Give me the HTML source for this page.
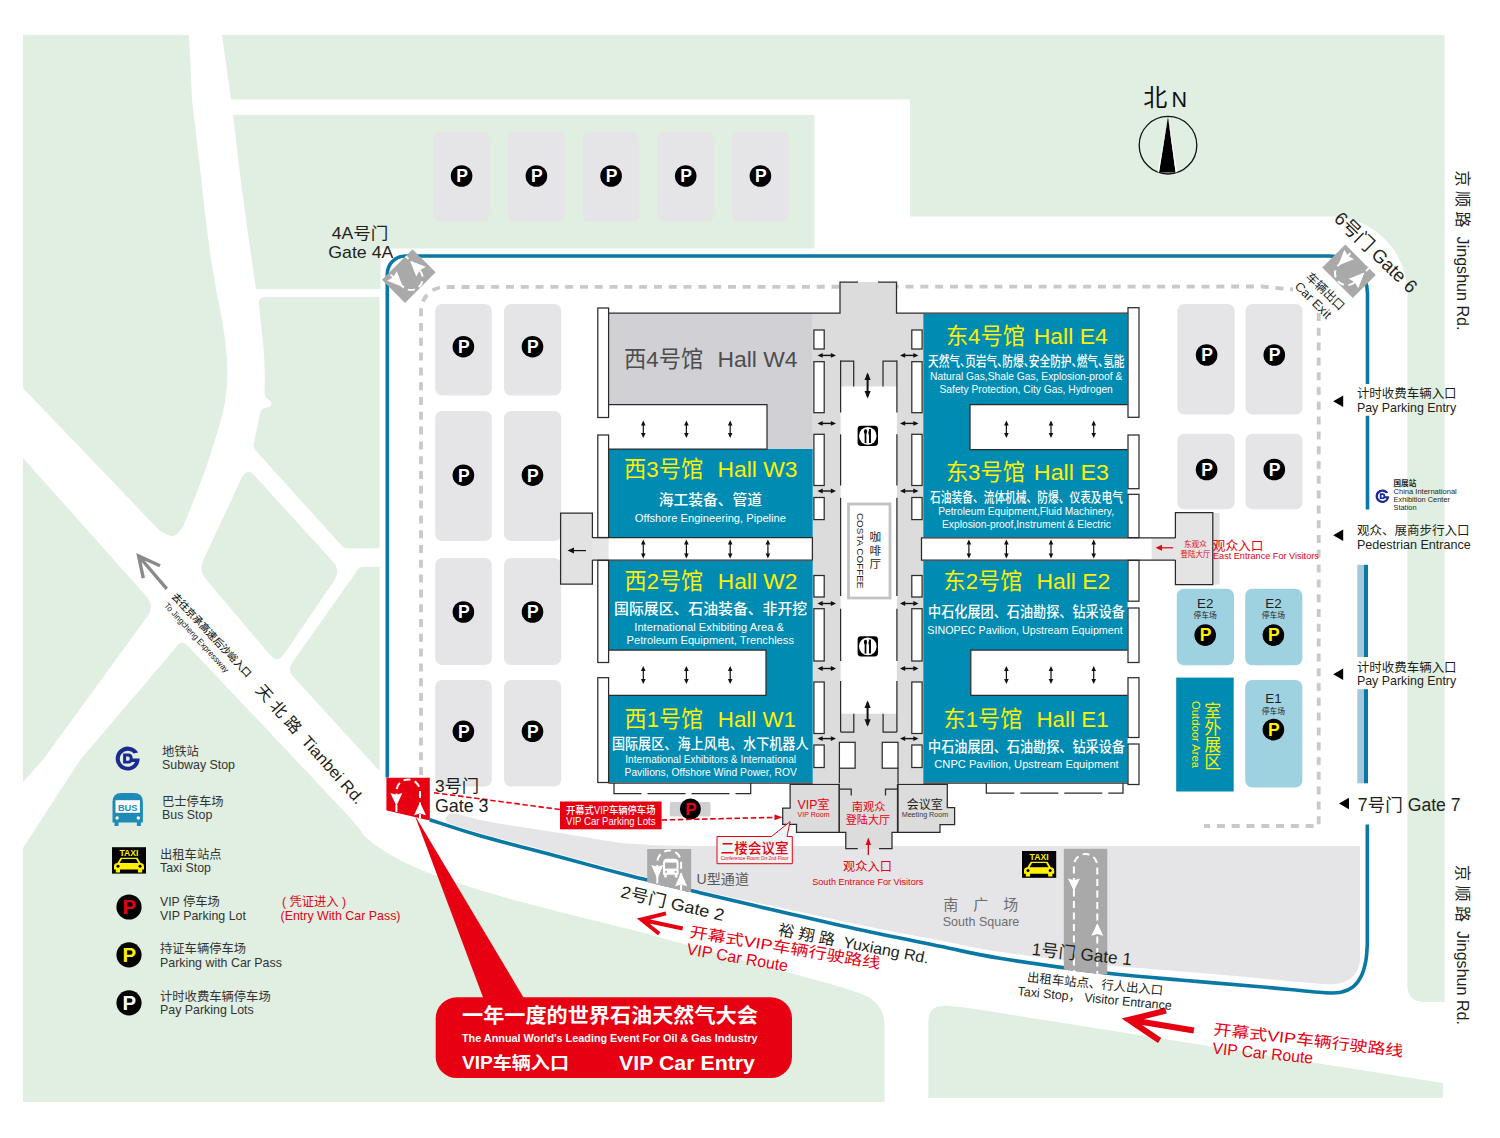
<!DOCTYPE html>
<html lang="zh"><head><meta charset="utf-8"><title>Venue Map</title>
<style>html,body{margin:0;padding:0;background:#fff}svg{display:block}text{font-family:"Liberation Sans","Noto Sans CJK SC",sans-serif;white-space:pre}</style>
</head><body>
<svg width="1500" height="1138" viewBox="0 0 1500 1138">
<defs>
<clipPath id="insideBlue"><path transform="translate(0 1.9)" d="M429.7,819.7 C438.1,822.4 458.3,829.5 480.0,835.7 C501.7,841.9 535.0,850.4 560.0,857.1 C585.0,863.8 606.7,869.8 630.0,875.8 C653.3,881.8 675.0,886.8 700.0,892.8 C725.0,898.8 753.3,905.3 780.0,911.5 C806.7,917.7 833.3,924.0 860.0,929.8 C886.7,935.6 916.7,941.5 940.0,946.3 C963.3,951.0 973.3,954.0 1000.0,958.3 C1026.7,962.6 1070.0,968.7 1100.0,972.3 C1130.0,975.9 1153.3,977.6 1180.0,980.0 C1206.7,982.4 1240.0,985.0 1260.0,986.8 C1280.0,988.5 1289.2,989.5 1300.0,990.5 C1310.8,991.5 1318.2,992.5 1325.0,992.8 C1331.8,993.1 1336.3,993.2 1341.0,992.2 C1345.7,991.2 1349.9,989.3 1353.3,986.6 C1356.7,983.9 1359.2,980.3 1361.3,976.0 C1363.4,971.7 1364.8,966.2 1365.8,961.0 C1366.8,955.8 1367.0,947.7 1367.3,945.0 L1367.5,800 L400,800 Z"/></clipPath>
<clipPath id="g3clip"><path d="M385.7,777.5 L429.8,777.5 L429.8,820.6 L385.7,810.3 Z"/></clipPath>
</defs>
<path d="M23.0,35.0 L189.0,35.0 L192.0,100.0 L196.4,137.2 Q200.0,167.0 203.2,196.8 L204.0,204.3 Q207.0,233.0 211.5,261.5 L213.4,273.3 Q216.0,290.0 219.5,306.5 L219.5,306.5 Q223.0,323.0 225.1,339.7 L225.5,343.1 Q228.0,363.0 227.0,383.0 L227.0,383.0 Q226.0,403.0 220.3,422.2 L215.5,438.2 Q207.0,467.0 195.9,494.9 L183.0,527.0 L178.5,532.5 Q174.0,538.0 167.6,534.8 L160.0,531.0 L23.0,388.0 Z" fill="#e0efe2" />
<path d="M222,35 L1444.7,35 L1444.7,1002 L1424,1002 Q1407.4,1002 1407.4,985 L1407.4,293 A77,77 0 0 0 1330.5,216.5 L910,216.5 L910,99.5 L231,99.5 Z" fill="#e0efe2"/>
<path d="M233.0,115.0 L814.3,115.0 L814.3,248.5 L380.7,248.5 L380.7,289.0 L256.0,289.0 L248.8,239.6 Q243.0,200.0 238.3,160.3 Z" fill="#e0efe2" />
<path d="M258.8,304.0 Q258.0,297.0 265.0,297.0 L379.6,297.0 L379.6,548.3 L347.0,548.3 Q344.0,548.3 342.0,546.1 L255.7,450.4 Q253.0,447.4 253.8,443.5 L260.0,413.3 L262.0,409.0 L269.6,406.7 Q272.0,406.0 271.5,403.5 L271.5,403.5 Q271.0,401.0 268.8,399.7 L267.8,399.0 Q264.5,397.0 264.6,393.2 L264.8,379.6 Q265.0,363.0 263.3,346.5 L263.4,346.5 Q261.7,330.0 259.9,313.5 Z" fill="#e0efe2" />
<path d="M241.6,477.9 Q246.7,467.0 254.8,475.9 L332.9,561.5 Q341.0,570.4 334.3,580.3 L284.2,654.1 Q277.5,664.0 269.8,654.8 L206.2,579.6 Q198.5,570.4 203.6,559.5 Z" fill="#e0efe2" />
<path d="M358.3,569.1 Q360.0,566.7 363.0,566.7 L379.6,566.7 L379.6,771.0 L293.1,676.6 Q287.0,670.0 292.2,662.7 Z" fill="#e0efe2" />
<path d="M23.0,458.0 L146.3,596.3 Q155.0,606.0 147.3,616.5 L43.3,759.3 L23.0,782.0 Z" fill="#e0efe2" />
<path d="M173.5,650.5 Q180.3,638 187,645 C212.5,672.0 309.8,774.7 340.0,807.0 C370.2,839.3 358.0,830.2 368.0,839.0 C378.0,847.8 388.0,853.7 400.0,860.0 C412.0,866.3 423.3,871.0 440.0,877.0 C456.7,883.0 480.0,890.2 500.0,896.0 C520.0,901.8 536.7,906.0 560.0,912.0 C583.3,918.0 610.0,924.1 640.0,932.0 C670.0,939.9 708.8,951.0 740.0,959.5 C771.2,968.0 807.7,977.6 827.0,983.0 C846.3,988.4 851.2,990.5 856.0,992.0 Q884.5,1000 884.5,1026 L884.5,1102 L23,1102 L23,848 L80,760 Z" fill="#e0efe2"/>
<path d="M928.3,1098.0 L928.3,1022.4 Q928.3,1004.0 946.6,1005.8 L965.0,1007.5 L1443.0,1083.0 L1443.0,1098.0 Z" fill="#e0efe2" />
<path d="M446,817.5 Q444,822 452,824.5 C456.7,825.9 462.0,827.9 480.0,832.9 C498.0,837.9 535.0,847.6 560.0,854.3 C585.0,861.0 606.7,867.0 630.0,873.0 C653.3,879.0 675.0,884.4 700.0,890.2 C725.0,896.0 753.3,901.8 780.0,907.6 C806.7,913.4 833.3,919.4 860.0,924.9 C886.7,930.4 916.7,935.9 940.0,940.4 C963.3,944.9 973.3,947.8 1000.0,951.8 C1026.7,955.8 1070.0,961.4 1100.0,964.6 C1130.0,967.9 1153.3,969.0 1180.0,971.3 C1206.7,973.6 1241.7,976.5 1260.0,978.2 C1278.3,979.9 1279.2,980.3 1290.0,981.3 C1300.8,982.3 1319.2,983.8 1325.0,984.3 C1347,985.5 1360,976 1360,958 L1360,846 L700,846 L660,845.5 L620,843 L560,833 L500,823.8 L480,820 L456,813.6 Q448,812 446,817.5 Z" fill="#e5e5e7"/>
<path d="M429.7,819.7 C438.1,822.4 458.3,829.5 480.0,835.7 C501.7,841.9 535.0,850.4 560.0,857.1 C585.0,863.8 606.7,869.8 630.0,875.8 C653.3,881.8 675.0,886.8 700.0,892.8 C725.0,898.8 753.3,905.3 780.0,911.5 C806.7,917.7 833.3,924.0 860.0,929.8 C886.7,935.6 916.7,941.5 940.0,946.3 C963.3,951.0 973.3,954.0 1000.0,958.3 C1026.7,962.6 1070.0,968.7 1100.0,972.3 C1130.0,975.9 1153.3,977.6 1180.0,980.0 C1206.7,982.4 1240.0,985.0 1260.0,986.8 C1280.0,988.5 1289.2,989.5 1300.0,990.5 C1310.8,991.5 1318.2,992.5 1325.0,992.8 C1331.8,993.1 1336.3,993.2 1341.0,992.2 C1345.7,991.2 1349.9,989.3 1353.3,986.6 C1356.7,983.9 1359.2,980.3 1361.3,976.0 C1363.4,971.7 1364.8,966.2 1365.8,961.0 C1366.8,955.8 1367.0,947.7 1367.3,945.0 L1367.3,824.6" fill="none" stroke="#0a78a4" stroke-width="3.6"/>
<path d="M387.3,777.5 L387.3,274 A18,18 0 0 1 405.3,256 L1329.5,256 A38,38 0 0 1 1367.5,294 L1367.5,384 M1367.5,415.7 L1367.5,509.4" fill="none" stroke="#0a78a4" stroke-width="3.6"/>
<rect x="1357.3" y="564.8" width="6.9" height="92.2" fill="#a6c6dc" />
<rect x="1364.0" y="564.8" width="4.0" height="92.2" fill="#0a78a4" />
<rect x="1357.3" y="689.2" width="6.9" height="94.1" fill="#a6c6dc" />
<rect x="1364.0" y="689.2" width="4.0" height="94.1" fill="#0a78a4" />
<g clip-path="url(#insideBlue)"><g transform="translate(669.2 870.5) rotate(0)"><rect x="-22.0" y="-21.5" width="44.0" height="43.0" fill="#a9a9a9"/><path d="M-11.9,21.5 L-11.9,-8.1 A11.9,11.9 0 0 1 11.9,-8.1 L11.9,21.5" fill="none" stroke="#fff" stroke-width="2" stroke-dasharray="7 4.5" stroke-dashoffset="3"/><path d="M-17.9,-5.6 L-11.9,-3.8 L-5.9,-5.6 L-11.9,8.4 Z" fill="#fff"/><path d="M5.9,15.8 L11.9,14.0 L17.9,15.8 L11.9,1.8 Z" fill="#fff"/></g><g transform="translate(670.8 868.2)"><path d="M-7.8,-5 Q-7.8,-9.4 -3.5,-9.4 L3.5,-9.4 Q7.8,-9.4 7.8,-5 L7.8,6.6 L6.6,6.6 L6.6,9.2 L4,9.2 L4,6.6 L-4,6.6 L-4,9.2 L-6.6,9.2 L-6.6,6.6 L-7.8,6.6 Z" fill="#fff"/><rect x="-5.8" y="-5.6" width="11.6" height="6" fill="#a9a9a9"/><circle cx="-4.8" cy="3.6" r="1.1" fill="#a9a9a9"/><circle cx="4.8" cy="3.6" r="1.1" fill="#a9a9a9"/></g></g>
<g clip-path="url(#insideBlue)"><g transform="translate(1085.6 911.4) rotate(0)"><rect x="-21.8" y="-62.6" width="43.5" height="125.2" fill="#a9a9a9"/><path d="M-11.7,62.6 L-11.7,-45.7 A11.7,11.7 0 0 1 11.7,-45.7 L11.7,62.6" fill="none" stroke="#fff" stroke-width="2" stroke-dasharray="7 4.5" stroke-dashoffset="3"/><path d="M-17.7,-32.9 L-11.7,-31.1 L-5.7,-32.9 L-11.7,-20.4 Z" fill="#fff"/><path d="M5.7,24.4 L11.7,22.6 L17.7,24.4 L11.7,11.9 Z" fill="#fff"/></g></g>
<path d="M421,775 L421,311 A24,24 0 0 1 445,287 L1262,286.5 L1293,289.5 M1318.7,313 L1318.7,826 L1204,826" fill="none" stroke="#c9c9c9" stroke-width="3.8" stroke-dasharray="8 6.8"/>
<rect x="433.2" y="131.6" width="56.8" height="89.9" fill="#e5e5e7" rx="7" />
<rect x="508.0" y="131.6" width="56.8" height="89.9" fill="#e5e5e7" rx="7" />
<rect x="582.7" y="131.6" width="56.8" height="89.9" fill="#e5e5e7" rx="7" />
<rect x="657.3" y="131.6" width="56.8" height="89.9" fill="#e5e5e7" rx="7" />
<rect x="732.0" y="131.6" width="56.8" height="89.9" fill="#e5e5e7" rx="7" />
<rect x="435.2" y="304.0" width="56.6" height="91.5" fill="#e5e5e7" rx="7" />
<rect x="504.0" y="304.0" width="57.2" height="91.5" fill="#e5e5e7" rx="7" />
<rect x="435.2" y="411.0" width="56.6" height="130.0" fill="#e5e5e7" rx="7" />
<rect x="504.0" y="411.0" width="57.2" height="130.0" fill="#e5e5e7" rx="7" />
<rect x="435.2" y="558.0" width="56.6" height="107.0" fill="#e5e5e7" rx="7" />
<rect x="504.0" y="558.0" width="57.2" height="107.0" fill="#e5e5e7" rx="7" />
<rect x="435.2" y="680.0" width="56.6" height="106.5" fill="#e5e5e7" rx="7" />
<rect x="504.0" y="680.0" width="57.2" height="106.5" fill="#e5e5e7" rx="7" />
<rect x="1177.3" y="304.0" width="57.4" height="110.6" fill="#e5e5e7" rx="7" />
<rect x="1245.5" y="304.0" width="57.1" height="110.6" fill="#e5e5e7" rx="7" />
<rect x="1177.3" y="433.8" width="57.4" height="75.5" fill="#e5e5e7" rx="7" />
<rect x="1245.5" y="433.8" width="57.1" height="75.5" fill="#e5e5e7" rx="7" />
<rect x="1176.8" y="588.8" width="57.2" height="76.5" fill="#9fd2e0" rx="7" />
<rect x="1245.2" y="588.8" width="57.2" height="76.5" fill="#9fd2e0" rx="7" />
<rect x="1245.2" y="680.0" width="57.2" height="107.6" fill="#9fd2e0" rx="7" />
<rect x="1176.2" y="677.6" width="57.5" height="113.9" fill="#008bb2" />
<rect x="669.8" y="802.0" width="40.7" height="14.5" fill="#d0d0d2" rx="2" />
<circle cx="461.6" cy="176.0" r="10.8" fill="#000"/>
<text x="462.0" y="182.3" font-size="17.5" fill="#fff" text-anchor="middle" font-weight="bold" >P</text>
<circle cx="536.4" cy="176.0" r="10.8" fill="#000"/>
<text x="536.8" y="182.3" font-size="17.5" fill="#fff" text-anchor="middle" font-weight="bold" >P</text>
<circle cx="611.1" cy="176.0" r="10.8" fill="#000"/>
<text x="611.5" y="182.3" font-size="17.5" fill="#fff" text-anchor="middle" font-weight="bold" >P</text>
<circle cx="685.7" cy="176.0" r="10.8" fill="#000"/>
<text x="686.1" y="182.3" font-size="17.5" fill="#fff" text-anchor="middle" font-weight="bold" >P</text>
<circle cx="760.4" cy="176.0" r="10.8" fill="#000"/>
<text x="760.8" y="182.3" font-size="17.5" fill="#fff" text-anchor="middle" font-weight="bold" >P</text>
<circle cx="463.4" cy="346.7" r="10.8" fill="#000"/>
<text x="463.8" y="353.0" font-size="17.5" fill="#fff" text-anchor="middle" font-weight="bold" >P</text>
<circle cx="532.5" cy="346.7" r="10.8" fill="#000"/>
<text x="532.9" y="353.0" font-size="17.5" fill="#fff" text-anchor="middle" font-weight="bold" >P</text>
<circle cx="463.4" cy="475.2" r="10.8" fill="#000"/>
<text x="463.8" y="481.5" font-size="17.5" fill="#fff" text-anchor="middle" font-weight="bold" >P</text>
<circle cx="532.5" cy="475.2" r="10.8" fill="#000"/>
<text x="532.9" y="481.5" font-size="17.5" fill="#fff" text-anchor="middle" font-weight="bold" >P</text>
<circle cx="463.4" cy="612.0" r="10.8" fill="#000"/>
<text x="463.8" y="618.3" font-size="17.5" fill="#fff" text-anchor="middle" font-weight="bold" >P</text>
<circle cx="532.5" cy="612.0" r="10.8" fill="#000"/>
<text x="532.9" y="618.3" font-size="17.5" fill="#fff" text-anchor="middle" font-weight="bold" >P</text>
<circle cx="463.4" cy="731.3" r="10.8" fill="#000"/>
<text x="463.8" y="737.6" font-size="17.5" fill="#fff" text-anchor="middle" font-weight="bold" >P</text>
<circle cx="532.5" cy="731.3" r="10.8" fill="#000"/>
<text x="532.9" y="737.6" font-size="17.5" fill="#fff" text-anchor="middle" font-weight="bold" >P</text>
<circle cx="1206.6" cy="355.0" r="10.8" fill="#000"/>
<text x="1207.0" y="361.3" font-size="17.5" fill="#fff" text-anchor="middle" font-weight="bold" >P</text>
<circle cx="1274.3" cy="355.0" r="10.8" fill="#000"/>
<text x="1274.7" y="361.3" font-size="17.5" fill="#fff" text-anchor="middle" font-weight="bold" >P</text>
<circle cx="1206.6" cy="469.5" r="10.8" fill="#000"/>
<text x="1207.0" y="475.8" font-size="17.5" fill="#fff" text-anchor="middle" font-weight="bold" >P</text>
<circle cx="1274.3" cy="469.5" r="10.8" fill="#000"/>
<text x="1274.7" y="475.8" font-size="17.5" fill="#fff" text-anchor="middle" font-weight="bold" >P</text>
<circle cx="1205.2" cy="635.1" r="10.8" fill="#000"/>
<text x="1205.6" y="641.4" font-size="17.5" fill="#fff100" text-anchor="middle" font-weight="bold" >P</text>
<circle cx="1273.4" cy="635.1" r="10.8" fill="#000"/>
<text x="1273.8" y="641.4" font-size="17.5" fill="#fff100" text-anchor="middle" font-weight="bold" >P</text>
<circle cx="1273.4" cy="729.6" r="10.8" fill="#000"/>
<text x="1273.8" y="735.9" font-size="17.5" fill="#fff100" text-anchor="middle" font-weight="bold" >P</text>
<circle cx="690.4" cy="809.0" r="10.5" fill="#000"/>
<text x="690.8" y="815.1" font-size="17.0" fill="#e60012" text-anchor="middle" font-weight="bold" >P</text>
<rect x="812.7" y="313.2" width="110.6" height="469.8" fill="#dbdcdb" />
<rect x="840.0" y="282.0" width="56.5" height="32.0" fill="#dbdcdb" />
<path d="M608.6,313.2 L812.7,313.2 L812.7,449.0 L767.0,449.0 L767.0,404.7 L608.6,404.7 Z" fill="#d1d1d5" />
<rect x="608.6" y="449.0" width="204.1" height="88.5" fill="#008bb2" />
<path d="M608.6,560.4 L812.7,560.4 L812.7,782.5 L608.6,782.5 L608.6,695.4 L766.0,695.4 L766.0,650.0 L608.6,650.0 Z" fill="#008bb2" />
<path d="M923.3,313.8 L1127.6,313.8 L1127.6,404.6 L970.0,404.6 L970.0,449.7 L1127.6,449.7 L1127.6,537.6 L923.3,537.6 Z" fill="#008bb2" />
<path d="M923.3,560.4 L1127.6,560.4 L1127.6,650.0 L970.8,650.0 L970.8,695.4 L1127.6,695.4 L1127.6,782.5 L923.3,782.5 Z" fill="#008bb2" />
<path d="M597.8,313.2 L840.0,313.2 L840.0,282.0 L858.0,282.0" fill="none" stroke="#2e2a2a" stroke-width="1.25" />
<path d="M878.0,282.0 L896.5,282.0 L896.5,313.2 L1128.0,313.2" fill="none" stroke="#2e2a2a" stroke-width="1.25" />
<rect x="560.6" y="513.0" width="31.8" height="71.0" fill="#e2e2e2" />
<rect x="592.0" y="538.0" width="21.0" height="22.0" fill="#e6e6e6" />
<path d="M592.4,538.0 L592.4,513.0 L560.6,513.0 L560.6,584.0 L592.4,584.0 L592.4,560.0" fill="none" stroke="#2e2a2a" stroke-width="1.25" />
<rect x="1212.8" y="513.0" width="6.8" height="71.5" fill="#e0e0e0" />
<rect x="1175.4" y="512.6" width="37.4" height="71.9" fill="#e4e4e4" />
<rect x="1151.4" y="538.3" width="24.6" height="21.5" fill="#e4e4e4" />
<path d="M1175.4,538.0 L1175.4,512.6 L1212.8,512.6 L1212.8,584.5 L1175.4,584.5 L1175.4,560.0" fill="none" stroke="#2e2a2a" stroke-width="1.25" />
<rect x="608.6" y="537.5" width="203.8" height="22.9" fill="#fff" />
<path d="M592.4,537.7 L812.4,537.7 L812.4,560.2 L592.4,560.2" fill="none" stroke="#2e2a2a" stroke-width="1.25" />
<rect x="921.5" y="537.6" width="229.9" height="22.8" fill="#fff" />
<path d="M1175.4,537.8 L921.5,537.8 L921.5,560.2 L1175.4,560.2" fill="none" stroke="#2e2a2a" stroke-width="1.25" />
<rect x="608.6" y="404.7" width="158.4" height="44.3" fill="#fff" />
<path d="M608.6,404.7 L767.0,404.7 L767.0,449.0 L608.6,449.0" fill="none" stroke="#2e2a2a" stroke-width="1.25" />
<rect x="608.6" y="650.0" width="157.4" height="45.4" fill="#fff" />
<path d="M608.6,650.0 L766.0,650.0 L766.0,695.4 L608.6,695.4" fill="none" stroke="#2e2a2a" stroke-width="1.25" />
<rect x="970.0" y="404.6" width="157.6" height="45.1" fill="#fff" />
<path d="M1127.6,404.6 L970.0,404.6 L970.0,449.7 L1127.6,449.7" fill="none" stroke="#2e2a2a" stroke-width="1.25" />
<rect x="970.8" y="650.0" width="156.8" height="45.4" fill="#fff" />
<path d="M1127.6,650.0 L970.8,650.0 L970.8,695.4 L1127.6,695.4" fill="none" stroke="#2e2a2a" stroke-width="1.25" />
<rect x="597.8" y="308.0" width="10.8" height="109.5" fill="#fff" stroke="#2e2a2a" stroke-width="1.25" />
<rect x="597.8" y="435.0" width="10.8" height="102.5" fill="#fff" stroke="#2e2a2a" stroke-width="1.25" />
<rect x="597.8" y="560.4" width="10.8" height="102.1" fill="#fff" stroke="#2e2a2a" stroke-width="1.25" />
<rect x="597.8" y="677.7" width="10.8" height="104.8" fill="#fff" stroke="#2e2a2a" stroke-width="1.25" />
<rect x="1128.0" y="307.7" width="11.0" height="109.6" fill="#fff" stroke="#2e2a2a" stroke-width="1.25" />
<rect x="1128.0" y="435.0" width="11.0" height="53.7" fill="#fff" stroke="#2e2a2a" stroke-width="1.25" />
<rect x="1128.0" y="494.3" width="11.0" height="43.3" fill="#fff" stroke="#2e2a2a" stroke-width="1.25" />
<rect x="1128.0" y="560.4" width="11.0" height="40.8" fill="#fff" stroke="#2e2a2a" stroke-width="1.25" />
<rect x="1128.0" y="608.0" width="11.0" height="54.5" fill="#fff" stroke="#2e2a2a" stroke-width="1.25" />
<rect x="1128.0" y="677.7" width="11.0" height="59.8" fill="#fff" stroke="#2e2a2a" stroke-width="1.25" />
<rect x="1128.0" y="744.0" width="11.0" height="40.5" fill="#fff" stroke="#2e2a2a" stroke-width="1.25" />
<path d="M614.0,783.0 L614.0,793.5 L750.7,793.5 L750.7,783.0" fill="none" stroke="#2e2a2a" stroke-width="1.25" stroke-dasharray="38 6"/>
<path d="M986.3,783.0 L986.3,793.0 L1123.0,793.0 L1123.0,783.0" fill="none" stroke="#2e2a2a" stroke-width="1.25" stroke-dasharray="38 6"/>
<path d="M608.6,783.0 L812.7,783.0" fill="none" stroke="#2e2a2a" stroke-width="1.25" />
<path d="M923.3,783.0 L1128.0,783.0" fill="none" stroke="#2e2a2a" stroke-width="1.25" />
<rect x="840.6" y="386.4" width="56.3" height="327.3" fill="#fff" />
<rect x="813.9" y="330.0" width="10.3" height="19.0" fill="#fff" stroke="#2e2a2a" stroke-width="1.25" />
<rect x="911.8" y="330.0" width="10.3" height="19.0" fill="#fff" stroke="#2e2a2a" stroke-width="1.25" />
<rect x="813.9" y="361.7" width="10.3" height="51.0" fill="#fff" stroke="#2e2a2a" stroke-width="1.25" />
<rect x="911.8" y="361.7" width="10.3" height="51.0" fill="#fff" stroke="#2e2a2a" stroke-width="1.25" />
<rect x="813.9" y="434.3" width="10.3" height="51.2" fill="#fff" stroke="#2e2a2a" stroke-width="1.25" />
<rect x="911.8" y="434.3" width="10.3" height="51.2" fill="#fff" stroke="#2e2a2a" stroke-width="1.25" />
<rect x="813.9" y="497.5" width="10.3" height="22.1" fill="#fff" stroke="#2e2a2a" stroke-width="1.25" />
<rect x="911.8" y="497.5" width="10.3" height="22.1" fill="#fff" stroke="#2e2a2a" stroke-width="1.25" />
<rect x="813.9" y="575.5" width="10.3" height="21.5" fill="#fff" stroke="#2e2a2a" stroke-width="1.25" />
<rect x="911.8" y="575.5" width="10.3" height="21.5" fill="#fff" stroke="#2e2a2a" stroke-width="1.25" />
<rect x="813.9" y="608.7" width="10.3" height="52.3" fill="#fff" stroke="#2e2a2a" stroke-width="1.25" />
<rect x="911.8" y="608.7" width="10.3" height="52.3" fill="#fff" stroke="#2e2a2a" stroke-width="1.25" />
<rect x="813.9" y="682.0" width="10.3" height="51.5" fill="#fff" stroke="#2e2a2a" stroke-width="1.25" />
<rect x="911.8" y="682.0" width="10.3" height="51.5" fill="#fff" stroke="#2e2a2a" stroke-width="1.25" />
<rect x="813.9" y="745.0" width="10.3" height="22.5" fill="#fff" stroke="#2e2a2a" stroke-width="1.25" />
<rect x="911.8" y="745.0" width="10.3" height="22.5" fill="#fff" stroke="#2e2a2a" stroke-width="1.25" />
<path d="M840.6,360.4 L840.6,412.5" fill="none" stroke="#2e2a2a" stroke-width="1.25" />
<path d="M896.9,360.4 L896.9,412.5" fill="none" stroke="#2e2a2a" stroke-width="1.25" />
<path d="M840.6,434.3 L840.6,485.5" fill="none" stroke="#2e2a2a" stroke-width="1.25" />
<path d="M896.9,434.3 L896.9,485.5" fill="none" stroke="#2e2a2a" stroke-width="1.25" />
<path d="M840.6,497.8 L840.6,596.0" fill="none" stroke="#2e2a2a" stroke-width="1.25" />
<path d="M896.9,497.8 L896.9,596.0" fill="none" stroke="#2e2a2a" stroke-width="1.25" />
<path d="M840.6,608.7 L840.6,661.0" fill="none" stroke="#2e2a2a" stroke-width="1.25" />
<path d="M896.9,608.7 L896.9,661.0" fill="none" stroke="#2e2a2a" stroke-width="1.25" />
<path d="M840.6,681.0 L840.6,732.0" fill="none" stroke="#2e2a2a" stroke-width="1.25" />
<path d="M896.9,681.0 L896.9,732.0" fill="none" stroke="#2e2a2a" stroke-width="1.25" />
<path d="M840.6,361.0 L853.7,361.0 L853.7,386.4" fill="none" stroke="#2e2a2a" stroke-width="1.25" />
<path d="M896.9,361.0 L883.0,361.0 L883.0,386.4" fill="none" stroke="#2e2a2a" stroke-width="1.25" />
<path d="M840.6,732.0 L853.8,732.0 L853.8,713.7" fill="none" stroke="#2e2a2a" stroke-width="1.25" />
<path d="M896.9,732.0 L883.1,732.0 L883.1,713.7" fill="none" stroke="#2e2a2a" stroke-width="1.25" />
<rect x="839.4" y="742.3" width="15.7" height="25.9" fill="#fff" stroke="#2e2a2a" stroke-width="1.25" />
<rect x="882.2" y="742.3" width="15.8" height="25.9" fill="#fff" stroke="#2e2a2a" stroke-width="1.25" />
<path d="M839.4,768.2 L839.4,784.0" fill="none" stroke="#2e2a2a" stroke-width="1.25" />
<path d="M898.0,768.2 L898.0,784.0" fill="none" stroke="#2e2a2a" stroke-width="1.25" />
<rect x="848.5" y="504.0" width="41.5" height="94.0" fill="#fff" stroke="#c2c2c2" stroke-width="2.8" />
<path d="M819.5,355.4 L834.0,355.4" fill="none" stroke="#111" stroke-width="1.4" />
<path d="M817.5,355.4 L822.7,353.0 L822.7,357.8 Z" fill="#111" />
<path d="M836.0,355.4 L830.8,353.0 L830.8,357.8 Z" fill="#111" />
<path d="M902.0,355.4 L916.5,355.4" fill="none" stroke="#111" stroke-width="1.4" />
<path d="M900.0,355.4 L905.2,353.0 L905.2,357.8 Z" fill="#111" />
<path d="M918.5,355.4 L913.3,353.0 L913.3,357.8 Z" fill="#111" />
<path d="M819.5,423.4 L834.0,423.4" fill="none" stroke="#111" stroke-width="1.4" />
<path d="M817.5,423.4 L822.7,421.0 L822.7,425.8 Z" fill="#111" />
<path d="M836.0,423.4 L830.8,421.0 L830.8,425.8 Z" fill="#111" />
<path d="M902.0,423.4 L916.5,423.4" fill="none" stroke="#111" stroke-width="1.4" />
<path d="M900.0,423.4 L905.2,421.0 L905.2,425.8 Z" fill="#111" />
<path d="M918.5,423.4 L913.3,421.0 L913.3,425.8 Z" fill="#111" />
<path d="M819.5,491.0 L834.0,491.0" fill="none" stroke="#111" stroke-width="1.4" />
<path d="M817.5,491.0 L822.7,488.6 L822.7,493.4 Z" fill="#111" />
<path d="M836.0,491.0 L830.8,488.6 L830.8,493.4 Z" fill="#111" />
<path d="M902.0,491.0 L916.5,491.0" fill="none" stroke="#111" stroke-width="1.4" />
<path d="M900.0,491.0 L905.2,488.6 L905.2,493.4 Z" fill="#111" />
<path d="M918.5,491.0 L913.3,488.6 L913.3,493.4 Z" fill="#111" />
<path d="M819.5,603.5 L834.0,603.5" fill="none" stroke="#111" stroke-width="1.4" />
<path d="M817.5,603.5 L822.7,601.1 L822.7,605.9 Z" fill="#111" />
<path d="M836.0,603.5 L830.8,601.1 L830.8,605.9 Z" fill="#111" />
<path d="M902.0,603.5 L916.5,603.5" fill="none" stroke="#111" stroke-width="1.4" />
<path d="M900.0,603.5 L905.2,601.1 L905.2,605.9 Z" fill="#111" />
<path d="M918.5,603.5 L913.3,601.1 L913.3,605.9 Z" fill="#111" />
<path d="M819.5,668.5 L834.0,668.5" fill="none" stroke="#111" stroke-width="1.4" />
<path d="M817.5,668.5 L822.7,666.1 L822.7,670.9 Z" fill="#111" />
<path d="M836.0,668.5 L830.8,666.1 L830.8,670.9 Z" fill="#111" />
<path d="M902.0,668.5 L916.5,668.5" fill="none" stroke="#111" stroke-width="1.4" />
<path d="M900.0,668.5 L905.2,666.1 L905.2,670.9 Z" fill="#111" />
<path d="M918.5,668.5 L913.3,666.1 L913.3,670.9 Z" fill="#111" />
<path d="M819.5,738.6 L834.0,738.6" fill="none" stroke="#111" stroke-width="1.4" />
<path d="M817.5,738.6 L822.7,736.2 L822.7,741.0 Z" fill="#111" />
<path d="M836.0,738.6 L830.8,736.2 L830.8,741.0 Z" fill="#111" />
<path d="M902.0,738.6 L916.5,738.6" fill="none" stroke="#111" stroke-width="1.4" />
<path d="M900.0,738.6 L905.2,736.2 L905.2,741.0 Z" fill="#111" />
<path d="M918.5,738.6 L913.3,736.2 L913.3,741.0 Z" fill="#111" />
<path d="M867.6,374.5 L867.6,396.5" fill="none" stroke="#111" stroke-width="2" />
<path d="M867.6,372.5 L864.5,380.0 L870.7,380.0 Z" fill="#111" />
<path d="M867.6,398.5 L864.5,391.0 L870.7,391.0 Z" fill="#111" />
<path d="M867.6,702.4 L867.6,724.7" fill="none" stroke="#111" stroke-width="2" />
<path d="M867.6,700.4 L864.5,707.9 L870.7,707.9 Z" fill="#111" />
<path d="M867.6,726.7 L864.5,719.2 L870.7,719.2 Z" fill="#111" />
<path d="M643.3,422.5 L643.3,436.0" fill="none" stroke="#111" stroke-width="1.2" />
<path d="M643.3,420.5 L641.0,425.5 L645.6,425.5 Z" fill="#111" />
<path d="M643.3,438.0 L641.0,433.0 L645.6,433.0 Z" fill="#111" />
<path d="M643.3,668.0 L643.3,682.0" fill="none" stroke="#111" stroke-width="1.2" />
<path d="M643.3,666.0 L641.0,671.0 L645.6,671.0 Z" fill="#111" />
<path d="M643.3,684.0 L641.0,679.0 L645.6,679.0 Z" fill="#111" />
<path d="M686.4,422.5 L686.4,436.0" fill="none" stroke="#111" stroke-width="1.2" />
<path d="M686.4,420.5 L684.1,425.5 L688.7,425.5 Z" fill="#111" />
<path d="M686.4,438.0 L684.1,433.0 L688.7,433.0 Z" fill="#111" />
<path d="M686.4,668.0 L686.4,682.0" fill="none" stroke="#111" stroke-width="1.2" />
<path d="M686.4,666.0 L684.1,671.0 L688.7,671.0 Z" fill="#111" />
<path d="M686.4,684.0 L684.1,679.0 L688.7,679.0 Z" fill="#111" />
<path d="M730.2,422.5 L730.2,436.0" fill="none" stroke="#111" stroke-width="1.2" />
<path d="M730.2,420.5 L727.9,425.5 L732.5,425.5 Z" fill="#111" />
<path d="M730.2,438.0 L727.9,433.0 L732.5,433.0 Z" fill="#111" />
<path d="M730.2,668.0 L730.2,682.0" fill="none" stroke="#111" stroke-width="1.2" />
<path d="M730.2,666.0 L727.9,671.0 L732.5,671.0 Z" fill="#111" />
<path d="M730.2,684.0 L727.9,679.0 L732.5,679.0 Z" fill="#111" />
<path d="M643.3,541.6 L643.3,556.6" fill="none" stroke="#111" stroke-width="1.2" />
<path d="M643.3,539.6 L641.0,544.6 L645.6,544.6 Z" fill="#111" />
<path d="M643.3,558.6 L641.0,553.6 L645.6,553.6 Z" fill="#111" />
<path d="M686.4,541.6 L686.4,556.6" fill="none" stroke="#111" stroke-width="1.2" />
<path d="M686.4,539.6 L684.1,544.6 L688.7,544.6 Z" fill="#111" />
<path d="M686.4,558.6 L684.1,553.6 L688.7,553.6 Z" fill="#111" />
<path d="M730.2,541.6 L730.2,556.6" fill="none" stroke="#111" stroke-width="1.2" />
<path d="M730.2,539.6 L727.9,544.6 L732.5,544.6 Z" fill="#111" />
<path d="M730.2,558.6 L727.9,553.6 L732.5,553.6 Z" fill="#111" />
<path d="M767.9,541.6 L767.9,556.6" fill="none" stroke="#111" stroke-width="1.2" />
<path d="M767.9,539.6 L765.6,544.6 L770.2,544.6 Z" fill="#111" />
<path d="M767.9,558.6 L765.6,553.6 L770.2,553.6 Z" fill="#111" />
<path d="M1006.4,422.5 L1006.4,436.0" fill="none" stroke="#111" stroke-width="1.2" />
<path d="M1006.4,420.5 L1004.1,425.5 L1008.7,425.5 Z" fill="#111" />
<path d="M1006.4,438.0 L1004.1,433.0 L1008.7,433.0 Z" fill="#111" />
<path d="M1006.4,668.0 L1006.4,682.0" fill="none" stroke="#111" stroke-width="1.2" />
<path d="M1006.4,666.0 L1004.1,671.0 L1008.7,671.0 Z" fill="#111" />
<path d="M1006.4,684.0 L1004.1,679.0 L1008.7,679.0 Z" fill="#111" />
<path d="M1051.0,422.5 L1051.0,436.0" fill="none" stroke="#111" stroke-width="1.2" />
<path d="M1051.0,420.5 L1048.7,425.5 L1053.3,425.5 Z" fill="#111" />
<path d="M1051.0,438.0 L1048.7,433.0 L1053.3,433.0 Z" fill="#111" />
<path d="M1051.0,668.0 L1051.0,682.0" fill="none" stroke="#111" stroke-width="1.2" />
<path d="M1051.0,666.0 L1048.7,671.0 L1053.3,671.0 Z" fill="#111" />
<path d="M1051.0,684.0 L1048.7,679.0 L1053.3,679.0 Z" fill="#111" />
<path d="M1093.7,422.5 L1093.7,436.0" fill="none" stroke="#111" stroke-width="1.2" />
<path d="M1093.7,420.5 L1091.4,425.5 L1096.0,425.5 Z" fill="#111" />
<path d="M1093.7,438.0 L1091.4,433.0 L1096.0,433.0 Z" fill="#111" />
<path d="M1093.7,668.0 L1093.7,682.0" fill="none" stroke="#111" stroke-width="1.2" />
<path d="M1093.7,666.0 L1091.4,671.0 L1096.0,671.0 Z" fill="#111" />
<path d="M1093.7,684.0 L1091.4,679.0 L1096.0,679.0 Z" fill="#111" />
<path d="M968.9,541.6 L968.9,556.6" fill="none" stroke="#111" stroke-width="1.2" />
<path d="M968.9,539.6 L966.6,544.6 L971.2,544.6 Z" fill="#111" />
<path d="M968.9,558.6 L966.6,553.6 L971.2,553.6 Z" fill="#111" />
<path d="M1006.4,541.6 L1006.4,556.6" fill="none" stroke="#111" stroke-width="1.2" />
<path d="M1006.4,539.6 L1004.1,544.6 L1008.7,544.6 Z" fill="#111" />
<path d="M1006.4,558.6 L1004.1,553.6 L1008.7,553.6 Z" fill="#111" />
<path d="M1051.0,541.6 L1051.0,556.6" fill="none" stroke="#111" stroke-width="1.2" />
<path d="M1051.0,539.6 L1048.7,544.6 L1053.3,544.6 Z" fill="#111" />
<path d="M1051.0,558.6 L1048.7,553.6 L1053.3,553.6 Z" fill="#111" />
<path d="M1093.7,541.6 L1093.7,556.6" fill="none" stroke="#111" stroke-width="1.2" />
<path d="M1093.7,539.6 L1091.4,544.6 L1096.0,544.6 Z" fill="#111" />
<path d="M1093.7,558.6 L1091.4,553.6 L1096.0,553.6 Z" fill="#111" />
<path d="M570.0,550.6 L586.0,550.6" fill="none" stroke="#111" stroke-width="1.2" />
<path d="M567.5,550.6 L574.0,547.6 L574.0,553.6 Z" fill="#111" />
<path d="M1159.0,547.8 L1173.2,547.8" fill="none" stroke="#e60012" stroke-width="1.2" />
<path d="M1155.5,547.8 L1162.0,544.8 L1162.0,550.8 Z" fill="#e60012" />
<rect x="857.6" y="425.8" width="20.4" height="20.2" fill="#000" rx="3.4" />
<ellipse cx="867.8" cy="435.9" rx="8.8" ry="8.9" fill="#fff"/>
<ellipse cx="865.5" cy="431.6" rx="1.6" ry="2.3" fill="#000"/>
<path d="M865.5,431.9 V443.1" stroke="#000" stroke-width="1.7"/>
<path d="M870.0,428.9 V443.1" stroke="#000" stroke-width="1.9"/>
<path d="M869.2,429.3 q-1.6,3.4 0,6.6 Z" fill="#000"/>
<rect x="857.6" y="636.3" width="20.4" height="20.2" fill="#000" rx="3.4" />
<ellipse cx="867.8" cy="646.4" rx="8.8" ry="8.9" fill="#fff"/>
<ellipse cx="865.5" cy="642.1" rx="1.6" ry="2.3" fill="#000"/>
<path d="M865.5,642.4 V653.6" stroke="#000" stroke-width="1.7"/>
<path d="M870.0,639.4 V653.6" stroke="#000" stroke-width="1.9"/>
<path d="M869.2,639.8 q-1.6,3.4 0,6.6 Z" fill="#000"/>
<path d="M790.1,784.3 L839.2,784.3 L839.2,832.3 L796.5,832.3 L796.5,824.3 L782.7,824.3 L782.7,808.0 L790.1,808.0 Z" fill="#dbdcdb" stroke="#2e2a2a" stroke-width="1.25" />
<path d="M898.0,784.3 L947.3,784.3 L947.3,807.5 L954.6,807.5 L954.6,824.7 L940.0,824.7 L940.0,832.3 L898.0,832.3 Z" fill="#dbdcdb" stroke="#2e2a2a" stroke-width="1.25" />
<path d="M839.3,783.0 L897.5,783.0 L897.5,832.3 L892.0,832.3 L892.0,848.7 L845.8,848.7 L845.8,832.3 L839.3,832.3 Z" fill="#dbdcdb" />
<path d="M839.3,784.0 L839.3,832.3 L845.8,832.3 L845.8,848.7 L857.8,848.7" fill="none" stroke="#2e2a2a" stroke-width="1.25" />
<path d="M879.0,848.7 L892.0,848.7 L892.0,832.3 L897.5,832.3 L897.5,784.0" fill="none" stroke="#2e2a2a" stroke-width="1.25" />
<path d="M839.3,789.2 L851.2,789.2 L851.2,795.5" fill="none" stroke="#2e2a2a" stroke-width="1.25" />
<path d="M897.5,789.2 L885.5,789.2 L885.5,795.5" fill="none" stroke="#2e2a2a" stroke-width="1.25" />
<g clip-path="url(#g3clip)"><g transform="translate(408.2 799.0) rotate(0)"><rect x="-21.8" y="-21.5" width="43.6" height="43.0" fill="#e60012"/><path d="M-11.8,21.5 L-11.8,-7.8 A11.8,11.8 0 0 1 11.8,-7.8 L11.8,21.5" fill="none" stroke="#fff" stroke-width="2" stroke-dasharray="7 4.5" stroke-dashoffset="3"/><path d="M-17.8,-6.0 L-11.8,-4.2 L-5.8,-6.0 L-11.8,7.0 Z" fill="#fff"/><path d="M5.8,16.3 L11.8,14.5 L17.8,16.3 L11.8,3.3 Z" fill="#fff"/></g></g>
<g transform="translate(408.8 276.1) rotate(135)"><rect x="-21.6" y="-16.3" width="43.2" height="32.6" fill="#a9a9a9"/><path d="M-11.8,16.3 L-11.8,-3.0 A11.8,11.8 0 0 1 11.8,-3.0 L11.8,16.3" fill="none" stroke="#fff" stroke-width="2" stroke-dasharray="7 4.5" stroke-dashoffset="3"/><path d="M-18.6,-5.5 L-11.8,-3.7 L-5.0,-5.5 L-11.8,10.0 Z" fill="#fff"/><path d="M5.0,12.0 L11.8,10.2 L18.6,12.0 L11.8,-3.5 Z" fill="#fff"/></g>
<g transform="translate(1349.0 271.3) rotate(225)"><rect x="-21.6" y="-16.3" width="43.1" height="32.6" fill="#a9a9a9"/><path d="M-11.8,16.3 L-11.8,-3.0 A11.8,11.8 0 0 1 11.8,-3.0 L11.8,16.3" fill="none" stroke="#fff" stroke-width="2" stroke-dasharray="7 4.5" stroke-dashoffset="3"/><path d="M-18.6,-5.5 L-11.8,-3.7 L-5.0,-5.5 L-11.8,10.0 Z" fill="#fff"/><path d="M5.0,12.0 L11.8,10.2 L18.6,12.0 L11.8,-3.5 Z" fill="#fff"/></g>
<g transform="translate(1022.0 851.0) scale(1.006 1.008)"><rect x="0" y="0" width="34" height="26.6" fill="#000"/><text x="17" y="8.6" font-size="8.6" font-weight="bold" fill="#fff100" text-anchor="middle" textLength="19" lengthAdjust="spacingAndGlyphs">TAXI</text><path d="M8.6,10.6 L25.4,10.6 L28.6,16 Q32,16.4 32,19 L32,22.6 L30.2,22.6 L30.2,25.4 L26,25.4 L26,22.6 L8,22.6 L8,25.4 L3.8,25.4 L3.8,22.6 L2,22.6 L2,19 Q2,16.4 5.4,16 Z" fill="#fff100"/><path d="M10,11.8 L24,11.8 L26.4,16 L7.6,16 Z" fill="#000"/><circle cx="6" cy="19.3" r="1.5" fill="#000"/><circle cx="28" cy="19.3" r="1.5" fill="#000"/></g>
<g transform="translate(112.0 847.2) scale(1.000 0.992)"><rect x="0" y="0" width="34" height="26.6" fill="#000"/><text x="17" y="8.6" font-size="8.6" font-weight="bold" fill="#fff100" text-anchor="middle" textLength="19" lengthAdjust="spacingAndGlyphs">TAXI</text><path d="M8.6,10.6 L25.4,10.6 L28.6,16 Q32,16.4 32,19 L32,22.6 L30.2,22.6 L30.2,25.4 L26,25.4 L26,22.6 L8,22.6 L8,25.4 L3.8,25.4 L3.8,22.6 L2,22.6 L2,19 Q2,16.4 5.4,16 Z" fill="#fff100"/><path d="M10,11.8 L24,11.8 L26.4,16 L7.6,16 Z" fill="#000"/><circle cx="6" cy="19.3" r="1.5" fill="#000"/><circle cx="28" cy="19.3" r="1.5" fill="#000"/></g>
<g transform="translate(112.5 793.0)"><path d="M0,9 Q0,0 9,0 L21.4,0 Q30.4,0 30.4,9 L30.4,29.4 L28.4,29.4 L28.4,33 L24.4,33 L24.4,29.4 L6,29.4 L6,33 L2,33 L2,29.4 L0,29.4 Z" fill="#1e8ab5"/><rect x="3" y="7.2" width="24.4" height="12.6" fill="#fff"/><text x="15.2" y="17.6" font-size="9.6" font-weight="bold" fill="#1e8ab5" text-anchor="middle" textLength="19.5" lengthAdjust="spacingAndGlyphs">BUS</text><circle cx="4.6" cy="25" r="1.7" fill="#fff"/><circle cx="25.8" cy="25" r="1.7" fill="#fff"/></g>
<g transform="translate(127.7 758.6) scale(1.000)"><path d="M10.4,-6 A12,12 0 1 0 12,0 L3,0 L3,3.4 L7.4,3.4 A8,8 0 1 1 6.2,-5 Z" fill="#1b2a8f"/><path d="M-4.6,-5 L0.6,-5 Q5,-5 5,0 Q5,5 0.6,5 L-4.6,5 Z M-1.6,-2.2 L-1.6,2.2 L0.4,2.2 Q2,2.2 2,0 Q2,-2.2 0.4,-2.2 Z" fill="#1b2a8f" fill-rule="evenodd"/></g>
<g transform="translate(1382.4 496.2) scale(0.567)"><path d="M10.4,-6 A12,12 0 1 0 12,0 L3,0 L3,3.4 L7.4,3.4 A8,8 0 1 1 6.2,-5 Z" fill="#1b2a8f"/><path d="M-4.6,-5 L0.6,-5 Q5,-5 5,0 Q5,5 0.6,5 L-4.6,5 Z M-1.6,-2.2 L-1.6,2.2 L0.4,2.2 Q2,2.2 2,0 Q2,-2.2 0.4,-2.2 Z" fill="#1b2a8f" fill-rule="evenodd"/></g>
<circle cx="1168" cy="145.2" r="28.8" fill="none" stroke="#111" stroke-width="1.3"/>
<path d="M1168.0,116.4 L1159.0,172.6 L1175.6,172.6 Z" fill="#000" />
<path d="M1168.0,116.4 L1159.0,172.6 L1157.6,172.0 Z" fill="#fff" />
<path d="M1168.0,116.4 L1175.6,172.6 L1177.2,172.0 Z" fill="#fff" />
<path d="M1333.2,401.3 L1343.2,395.5 L1343.2,407.1 Z" fill="#000" />
<path d="M1333.2,535.2 L1343.2,529.4 L1343.2,541.0 Z" fill="#000" />
<path d="M1333.2,674.3 L1343.2,668.5 L1343.2,680.1 Z" fill="#000" />
<path d="M1339.0,803.5 L1349.0,797.7 L1349.0,809.3 Z" fill="#000" />
<path d="M166.8,588.9 L139.5,557 M143.3,578.2 L138.6,556 L160,565.7" fill="none" stroke="#8a8a8a" stroke-width="3.4"/>
<path d="M682.7,928.5 L644,920.2 M666,913.4 L641.3,919.5 L659.2,933.8" fill="none" stroke="#e60012" stroke-width="4"/>
<path d="M1193.9,1030.5 L1132,1020.3 M1166,1010.6 L1128.9,1019.8 L1159.6,1040.4" fill="none" stroke="#e60012" stroke-width="6"/>
<path d="M868.3,855 L868.3,843" stroke="#e60012" stroke-width="1.3"/>
<path d="M868.3,837.6 L865.6,845.0 L871.0,845.0 Z" fill="#e60012" />
<path d="M434,792.7 L560,809.5 M661.6,820 L776,817.4" fill="none" stroke="#e60012" stroke-width="1.6" stroke-dasharray="5.5 2.6"/>
<path d="M782.5,817.3 L774.5,814.4 L774.5,820.2 Z" fill="#e60012" />
<rect x="560.0" y="801.5" width="101.6" height="27.8" fill="#e60012" />
<path d="M717.0,836.5 L771.5,836.5 L790.1,821.6 L787.0,836.5 L792.3,836.5 L792.3,863.7 L717.0,863.7 Z" fill="#eef6f6" stroke="#e60012" stroke-width="1" />
<path d="M414.6,815.0 L484.0,1000.0 L525.0,1000.0 Z" fill="#e60012" />
<rect x="435.7" y="997.3" width="356.3" height="80.7" fill="#e60012" rx="21" />
<text x="624.0" y="366.5" font-size="22.6" fill="#4d4d4d" textLength="79.3" lengthAdjust="spacingAndGlyphs" >西4号馆</text>
<text x="717.5" y="366.5" font-size="22.6" fill="#4d4d4d" textLength="80.0" lengthAdjust="spacingAndGlyphs" >Hall W4</text>
<text x="624.0" y="476.7" font-size="22.6" fill="#fff100" textLength="79.3" lengthAdjust="spacingAndGlyphs" >西3号馆</text>
<text x="717.5" y="476.7" font-size="22.6" fill="#fff100" textLength="80.0" lengthAdjust="spacingAndGlyphs" >Hall W3</text>
<text x="658.8" y="504.6" font-size="14.7" fill="#fff" font-weight="500" textLength="103.2" lengthAdjust="spacingAndGlyphs" >海工装备、管道</text>
<text x="634.8" y="522.0" font-size="11.3" fill="#fff" textLength="151.2" lengthAdjust="spacingAndGlyphs" >Offshore Engineering, Pipeline</text>
<text x="624.5" y="589.4" font-size="22.6" fill="#fff100" textLength="78.7" lengthAdjust="spacingAndGlyphs" >西2号馆</text>
<text x="717.8" y="589.4" font-size="22.6" fill="#fff100" textLength="79.6" lengthAdjust="spacingAndGlyphs" >Hall W2</text>
<text x="614.1" y="613.6" font-size="14.7" fill="#fff" font-weight="500" textLength="193.1" lengthAdjust="spacingAndGlyphs" >国际展区、石油装备、非开挖</text>
<text x="634.3" y="630.7" font-size="11.3" fill="#fff" textLength="149.6" lengthAdjust="spacingAndGlyphs" >International Exhibiting Area &amp;</text>
<text x="626.5" y="644.0" font-size="11.3" fill="#fff" textLength="167.5" lengthAdjust="spacingAndGlyphs" >Petroleum Equipment, Trenchless</text>
<text x="624.5" y="727.2" font-size="22.6" fill="#fff100" textLength="78.7" lengthAdjust="spacingAndGlyphs" >西1号馆</text>
<text x="717.8" y="727.2" font-size="22.6" fill="#fff100" textLength="78.2" lengthAdjust="spacingAndGlyphs" >Hall W1</text>
<text x="611.9" y="748.5" font-size="14.5" fill="#fff" font-weight="500" textLength="196.7" lengthAdjust="spacingAndGlyphs" >国际展区、海上风电、水下机器人</text>
<text x="625.3" y="762.9" font-size="10.6" fill="#fff" textLength="170.7" lengthAdjust="spacingAndGlyphs" >International Exhibitors &amp; International</text>
<text x="624.5" y="776.0" font-size="10.9" fill="#fff" textLength="172.3" lengthAdjust="spacingAndGlyphs" >Pavilions, Offshore Wind Power, ROV</text>
<text x="945.9" y="344.4" font-size="22.6" fill="#fff100" textLength="79.0" lengthAdjust="spacingAndGlyphs" >东4号馆</text>
<text x="1033.8" y="344.4" font-size="22.6" fill="#fff100" textLength="73.9" lengthAdjust="spacingAndGlyphs" >Hall E4</text>
<text transform="translate(928.0 365.6) scale(0.775 1)" font-size="13.8" font-weight="500" fill="#fff"><tspan dx="0.00">天然气、</tspan><tspan dx="-7.18">页岩气、</tspan><tspan dx="-7.18">防爆、</tspan><tspan dx="-7.18">安全防护、</tspan><tspan dx="-7.18">燃气、</tspan><tspan dx="-7.18">氢能</tspan></text>
<text x="930.1" y="379.9" font-size="10.8" fill="#fff" textLength="192.2" lengthAdjust="spacingAndGlyphs" >Natural Gas,Shale Gas, Explosion-proof &amp;</text>
<text x="939.5" y="393.4" font-size="10.8" fill="#fff" textLength="173.3" lengthAdjust="spacingAndGlyphs" >Safety Protection, City Gas, Hydrogen</text>
<text x="945.9" y="479.5" font-size="22.6" fill="#fff100" textLength="79.0" lengthAdjust="spacingAndGlyphs" >东3号馆</text>
<text x="1033.8" y="479.5" font-size="22.6" fill="#fff100" textLength="75.2" lengthAdjust="spacingAndGlyphs" >Hall E3</text>
<text x="930.1" y="501.5" font-size="13.6" fill="#fff" font-weight="500" textLength="192.9" lengthAdjust="spacingAndGlyphs" >石油装备、流体机械、防爆、仪表及电气</text>
<text x="938.2" y="515.2" font-size="10.8" fill="#fff" textLength="175.9" lengthAdjust="spacingAndGlyphs" >Petroleum Equipment,Fluid Machinery,</text>
<text x="942.0" y="528.2" font-size="10.8" fill="#fff" textLength="169.0" lengthAdjust="spacingAndGlyphs" >Explosion-proof,Instrument &amp; Electric</text>
<text x="943.6" y="589.4" font-size="22.6" fill="#fff100" textLength="78.7" lengthAdjust="spacingAndGlyphs" >东2号馆</text>
<text x="1036.4" y="589.4" font-size="22.6" fill="#fff100" textLength="73.9" lengthAdjust="spacingAndGlyphs" >Hall E2</text>
<text x="928.1" y="616.9" font-size="14.5" fill="#fff" font-weight="500" textLength="196.8" lengthAdjust="spacingAndGlyphs" >中石化展团、石油勘探、钻采设备</text>
<text x="927.3" y="633.5" font-size="11.3" fill="#fff" textLength="195.4" lengthAdjust="spacingAndGlyphs" >SINOPEC Pavilion, Upstream Equipment</text>
<text x="943.6" y="727.2" font-size="22.6" fill="#fff100" textLength="78.7" lengthAdjust="spacingAndGlyphs" >东1号馆</text>
<text x="1036.4" y="727.2" font-size="22.6" fill="#fff100" textLength="72.2" lengthAdjust="spacingAndGlyphs" >Hall E1</text>
<text x="928.1" y="751.8" font-size="14.5" fill="#fff" font-weight="500" textLength="196.8" lengthAdjust="spacingAndGlyphs" >中石油展团、石油勘探、钻采设备</text>
<text x="934.3" y="767.9" font-size="11.3" fill="#fff" textLength="184.4" lengthAdjust="spacingAndGlyphs" >CNPC Pavilion, Upstream Equipment</text>
<text x="331.7" y="238.8" font-size="16.2" fill="#231f20" textLength="56.6" lengthAdjust="spacingAndGlyphs" >4A号门</text>
<text x="328.3" y="258.3" font-size="17" fill="#231f20" textLength="65.0" lengthAdjust="spacingAndGlyphs" >Gate 4A</text>
<text x="434.9" y="791.6" font-size="17.3" fill="#231f20" textLength="44.3" lengthAdjust="spacingAndGlyphs" >3号门</text>
<text x="434.9" y="811.8" font-size="17.9" fill="#231f20" textLength="53.6" lengthAdjust="spacingAndGlyphs" >Gate 3</text>
<text x="619.8" y="897.0" font-size="16.6" fill="#231f20" textLength="105.8" lengthAdjust="spacingAndGlyphs" transform="rotate(13.1 619.8 897.0)" >2号门 Gate 2</text>
<text x="1031.3" y="954.7" font-size="17" fill="#231f20" textLength="100.6" lengthAdjust="spacingAndGlyphs" transform="rotate(6 1031.3 954.7)" >1号门 Gate 1</text>
<text x="1333.0" y="219.8" font-size="18.6" fill="#231f20" textLength="107.0" lengthAdjust="spacingAndGlyphs" transform="rotate(44.2 1333.0 219.8)" >6号门 Gate 6</text>
<text x="1305.0" y="277.5" font-size="12" fill="#231f20" textLength="48.4" lengthAdjust="spacingAndGlyphs" transform="rotate(44 1305.0 277.5)" >车辆出口</text>
<text x="1294.0" y="287.0" font-size="12.4" fill="#231f20" textLength="46.0" lengthAdjust="spacingAndGlyphs" transform="rotate(45 1294.0 287.0)" >Car Exit</text>
<text x="1357.8" y="811.4" font-size="17.6" fill="#231f20" textLength="102.8" lengthAdjust="spacingAndGlyphs" >7号门 Gate 7</text>
<text x="1356.9" y="398.2" font-size="12.5" fill="#231f20" textLength="99.7" lengthAdjust="spacingAndGlyphs" >计时收费车辆入口</text>
<text x="1356.9" y="411.7" font-size="13" fill="#231f20" textLength="99.3" lengthAdjust="spacingAndGlyphs" >Pay Parking Entry</text>
<text x="1356.9" y="534.6" font-size="12.5" fill="#231f20" textLength="112.5" lengthAdjust="spacingAndGlyphs" >观众、展商步行入口</text>
<text x="1356.9" y="549.3" font-size="13.3" fill="#231f20" textLength="113.9" lengthAdjust="spacingAndGlyphs" >Pedestrian Entrance</text>
<text x="1356.9" y="671.7" font-size="12.5" fill="#231f20" textLength="99.7" lengthAdjust="spacingAndGlyphs" >计时收费车辆入口</text>
<text x="1356.9" y="684.8" font-size="13" fill="#231f20" textLength="99.3" lengthAdjust="spacingAndGlyphs" >Pay Parking Entry</text>
<text x="1393.5" y="485.5" font-size="7.6" fill="#231f20" font-weight="bold" textLength="22.8" lengthAdjust="spacingAndGlyphs" >国展站</text>
<text x="1393.5" y="493.8" font-size="7.3" fill="#231f20" textLength="63.3" lengthAdjust="spacingAndGlyphs" >China International</text>
<text x="1393.5" y="501.7" font-size="7.3" fill="#231f20" textLength="56.5" lengthAdjust="spacingAndGlyphs" >Exhibition Center</text>
<text x="1393.5" y="509.6" font-size="7.3" fill="#231f20" textLength="23.0" lengthAdjust="spacingAndGlyphs" >Station</text>
<text x="1457.0" y="170.5" font-size="16" fill="#231f20" textLength="160.0" lengthAdjust="spacingAndGlyphs" transform="rotate(90 1457.0 170.5)" >京 顺 路  Jingshun Rd.</text>
<text x="1457.0" y="865.0" font-size="16" fill="#231f20" textLength="160.0" lengthAdjust="spacingAndGlyphs" transform="rotate(90 1457.0 865.0)" >京 顺 路  Jingshun Rd.</text>
<text x="1143.2" y="105.6" font-size="24" fill="#111" >北</text>
<text x="1171.6" y="106.9" font-size="21.5" fill="#111" >N</text>
<text x="254.8" y="690.6" font-size="16" fill="#231f20" textLength="153.5" lengthAdjust="spacingAndGlyphs" transform="rotate(48.3 254.8 690.6)" >天 北 路  Tianbei Rd.</text>
<text x="171.0" y="597.0" font-size="10" fill="#231f20" font-weight="500" textLength="111.0" lengthAdjust="spacingAndGlyphs" transform="rotate(46.8 171.0 597.0)" >去往京承高速后沙峪入口</text>
<text x="163.8" y="606.0" font-size="8.4" fill="#111" textLength="91.0" lengthAdjust="spacingAndGlyphs" transform="rotate(47.5 163.8 606.0)" >To Jingcheng Expressway</text>
<text x="777.5" y="934.8" font-size="15.6" fill="#231f20" textLength="153.0" lengthAdjust="spacingAndGlyphs" transform="rotate(10.8 777.5 934.8)" >裕 翔 路  Yuxiang Rd.</text>
<text x="689.1" y="937.0" font-size="15.2" fill="#e60012" textLength="193.0" lengthAdjust="spacingAndGlyphs" transform="rotate(9.5 689.1 937.0)" >开幕式VIP车辆行驶路线</text>
<text x="686.1" y="954.3" font-size="16.2" fill="#e60012" textLength="102.4" lengthAdjust="spacingAndGlyphs" transform="rotate(9.7 686.1 954.3)" >VIP Car Route</text>
<text x="1213.0" y="1034.5" font-size="15.2" fill="#e60012" textLength="191.0" lengthAdjust="spacingAndGlyphs" transform="rotate(6.6 1213.0 1034.5)" >开幕式VIP车辆行驶路线</text>
<text x="1212.0" y="1053.6" font-size="16.2" fill="#e60012" textLength="101.0" lengthAdjust="spacingAndGlyphs" transform="rotate(5.7 1212.0 1053.6)" >VIP Car Route</text>
<text x="1026.7" y="981.5" font-size="12.4" fill="#231f20" textLength="136.7" lengthAdjust="spacingAndGlyphs" transform="rotate(5.6 1026.7 981.5)" >出租车站点、行人出入口</text>
<text x="1017.3" y="995.3" font-size="12.6" fill="#231f20" textLength="154.7" lengthAdjust="spacingAndGlyphs" transform="rotate(5.45 1017.3 995.3)" >Taxi Stop， Visitor Entrance</text>
<text x="943.3" y="910.0" font-size="15" fill="#6e6e6e" >南</text>
<text x="973.3" y="910.0" font-size="15" fill="#6e6e6e" >广</text>
<text x="1003.3" y="910.0" font-size="15" fill="#6e6e6e" >场</text>
<text x="942.7" y="925.7" font-size="13.4" fill="#6e6e6e" textLength="76.6" lengthAdjust="spacingAndGlyphs" >South Square</text>
<text x="696.5" y="884.0" font-size="14" fill="#595959" textLength="52.5" lengthAdjust="spacingAndGlyphs" >U型通道</text>
<text x="843.0" y="871.2" font-size="12.2" fill="#e60012" textLength="48.9" lengthAdjust="spacingAndGlyphs" >观众入口</text>
<text x="812.2" y="884.6" font-size="9.2" fill="#e60012" textLength="111.1" lengthAdjust="spacingAndGlyphs" >South Entrance For Visitors</text>
<text x="851.7" y="810.8" font-size="11.3" fill="#e60012" textLength="33.8" lengthAdjust="spacingAndGlyphs" >南观众</text>
<text x="845.8" y="824.2" font-size="11" fill="#e60012" textLength="44.2" lengthAdjust="spacingAndGlyphs" >登陆大厅</text>
<text x="797.6" y="808.8" font-size="12" fill="#e60012" textLength="32.0" lengthAdjust="spacingAndGlyphs" >VIP室</text>
<text x="797.6" y="817.2" font-size="7" fill="#e60012" textLength="32.0" lengthAdjust="spacingAndGlyphs" >VIP Room</text>
<text x="906.7" y="808.7" font-size="12" fill="#231f20" textLength="36.0" lengthAdjust="spacingAndGlyphs" >会议室</text>
<text x="901.7" y="816.5" font-size="7" fill="#3a3a3a" textLength="46.5" lengthAdjust="spacingAndGlyphs" >Meeting Room</text>
<text x="720.8" y="853.2" font-size="13.5" fill="#e60012" font-weight="500" textLength="67.7" lengthAdjust="spacingAndGlyphs" >二楼会议室</text>
<text x="720.8" y="860.0" font-size="4.9" fill="#e60012" textLength="67.7" lengthAdjust="spacingAndGlyphs" >Conference Room On 2nd Floor</text>
<text x="566.0" y="813.6" font-size="10.4" fill="#fff" font-weight="500" textLength="89.5" lengthAdjust="spacingAndGlyphs" >开幕式VIP车辆停车场</text>
<text x="566.0" y="825.2" font-size="10.6" fill="#fff" textLength="89.5" lengthAdjust="spacingAndGlyphs" >VIP Car Parking Lots</text>
<text x="1212.7" y="549.6" font-size="12.8" fill="#e60012" textLength="50.8" lengthAdjust="spacingAndGlyphs" >观众入口</text>
<text x="1213.0" y="559.4" font-size="9" fill="#e60012" textLength="105.8" lengthAdjust="spacingAndGlyphs" >East Entrance For Visitors</text>
<text x="1184.0" y="547.0" font-size="7.6" fill="#e60012" textLength="22.8" lengthAdjust="spacingAndGlyphs" >东观众</text>
<text x="1180.5" y="557.2" font-size="7.6" fill="#e60012" textLength="30.0" lengthAdjust="spacingAndGlyphs" >登陆大厅</text>
<text x="875.4" y="541.4" font-size="11.6" fill="#231f20" text-anchor="middle" >咖</text>
<text x="875.4" y="554.6" font-size="11.6" fill="#231f20" text-anchor="middle" >啡</text>
<text x="875.4" y="567.8" font-size="11.6" fill="#231f20" text-anchor="middle" >厅</text>
<text x="857.3" y="513.0" font-size="9.8" fill="#231f20" textLength="75.3" lengthAdjust="spacingAndGlyphs" transform="rotate(90 857.3 513.0)" >COSTA COFFEE</text>
<text x="1205.2" y="607.8" font-size="13.4" fill="#231f20" text-anchor="middle" >E2</text>
<text x="1205.2" y="617.8" font-size="7.8" fill="#231f20" text-anchor="middle" >停车场</text>
<text x="1273.4" y="607.8" font-size="13.4" fill="#231f20" text-anchor="middle" >E2</text>
<text x="1273.4" y="617.8" font-size="7.8" fill="#231f20" text-anchor="middle" >停车场</text>
<text x="1273.4" y="702.6" font-size="13.4" fill="#231f20" text-anchor="middle" >E1</text>
<text x="1273.4" y="713.5" font-size="7.8" fill="#231f20" text-anchor="middle" >停车场</text>
<text x="1212.7" y="716.5" font-size="17" fill="#fff100" text-anchor="middle" >室</text>
<text x="1212.7" y="733.5" font-size="17" fill="#fff100" text-anchor="middle" >外</text>
<text x="1212.7" y="750.5" font-size="17" fill="#fff100" text-anchor="middle" >展</text>
<text x="1212.7" y="767.5" font-size="17" fill="#fff100" text-anchor="middle" >区</text>
<text x="1191.6" y="701.0" font-size="11.4" fill="#fff100" textLength="67.0" lengthAdjust="spacingAndGlyphs" transform="rotate(90 1191.6 701.0)" >Outdoor Area</text>
<text x="162.0" y="755.6" font-size="12.3" fill="#333" >地铁站</text>
<text x="162.0" y="769.2" font-size="12.4" fill="#333" >Subway Stop</text>
<text x="162.0" y="805.6" font-size="12.3" fill="#333" >巴士停车场</text>
<text x="162.0" y="819.2" font-size="12.4" fill="#333" >Bus Stop</text>
<text x="160.0" y="858.5" font-size="12.3" fill="#333" >出租车站点</text>
<text x="160.0" y="872.0" font-size="12.4" fill="#333" >Taxi Stop</text>
<text x="160.0" y="906.4" font-size="12.3" fill="#333" >VIP 停车场</text>
<text x="160.0" y="919.5" font-size="12.4" fill="#333" >VIP Parking Lot</text>
<text x="160.0" y="953.4" font-size="12.3" fill="#333" >持证车辆停车场</text>
<text x="160.0" y="966.7" font-size="12.4" fill="#333" >Parking with Car Pass</text>
<text x="160.0" y="1000.8" font-size="12.3" fill="#333" >计时收费车辆停车场</text>
<text x="160.0" y="1014.2" font-size="12.4" fill="#333" >Pay Parking Lots</text>
<text x="281.9" y="906.4" font-size="12.3" fill="#e60012" >( 凭证进入 )</text>
<text x="280.5" y="919.5" font-size="12.4" fill="#e60012" textLength="120.0" lengthAdjust="spacingAndGlyphs" >(Entry With Car Pass)</text>
<circle cx="129.0" cy="907.0" r="12.6" fill="#000"/>
<text x="129.4" y="914.3" font-size="20.4" fill="#e60012" text-anchor="middle" font-weight="bold" >P</text>
<circle cx="129.0" cy="954.8" r="12.6" fill="#000"/>
<text x="129.4" y="962.1" font-size="20.4" fill="#fff100" text-anchor="middle" font-weight="bold" >P</text>
<circle cx="129.0" cy="1002.8" r="12.6" fill="#000"/>
<text x="129.4" y="1010.1" font-size="20.4" fill="#fff" text-anchor="middle" font-weight="bold" >P</text>
<text x="462.0" y="1023.2" font-size="20.4" fill="#fff" font-weight="bold" textLength="295.8" lengthAdjust="spacingAndGlyphs" >一年一度的世界石油天然气大会</text>
<text x="462.0" y="1042.2" font-size="11.2" fill="#fff" font-weight="bold" textLength="295.5" lengthAdjust="spacingAndGlyphs" >The Annual World's Leading Event For Oil &amp; Gas Industry</text>
<text x="462.0" y="1069.0" font-size="17.5" fill="#fff" font-weight="bold" textLength="107.0" lengthAdjust="spacingAndGlyphs" >VIP车辆入口</text>
<text x="619.0" y="1069.6" font-size="21" fill="#fff" font-weight="bold" textLength="136.0" lengthAdjust="spacingAndGlyphs" >VIP Car Entry</text>
</svg>
</body></html>
